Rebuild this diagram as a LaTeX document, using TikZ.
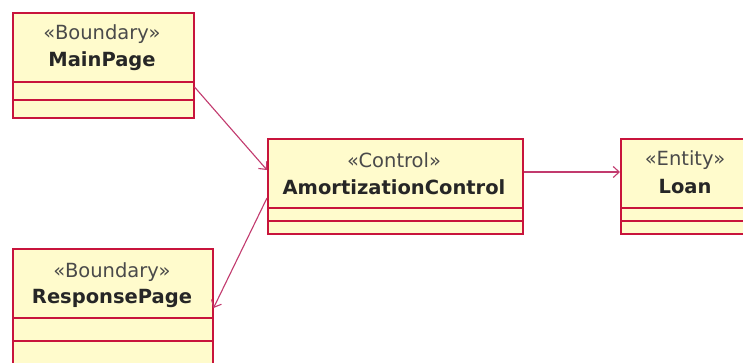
\documentclass[tikz,border=0pt]{standalone}
\usepackage{fontspec}
\setmainfont{DejaVu Sans}
\usetikzlibrary{arrows.meta}
\definecolor{boxline}{HTML}{C8143C}
\definecolor{boxfill}{HTML}{FFFBCC}
\definecolor{linkline}{HTML}{C23A6E}
\definecolor{stereogray}{HTML}{4A4A4A}
\tikzset{
  classbox/.style={draw=boxline, fill=boxfill, line width=1.5pt, rectangle, anchor=north west, inner sep=0pt},
  divider/.style={draw=boxline, line width=1.3pt},
  stereo/.style={font=\fontsize{19.5}{21}\selectfont, text=stereogray, inner sep=0pt},
  cname/.style={font=\fontsize{19.5}{21}\selectfont\bfseries, text=black!85, inner sep=0pt},
  link/.style={draw=linkline, line width=1.1pt, -{Straight Barb[length=6pt,width=11pt,line width=1.1pt]}}
}
\begin{document}
\begin{tikzpicture}[x=1pt,y=-1pt]
  \useasboundingbox (0,0) rectangle (743,362);
  \fill[white] (0,0) rectangle (743,362);
  \begin{scope}
    \clip (0,0) rectangle (743,362);
    % class boxes
    \node[classbox, minimum width=181pt, minimum height=105pt] (main) at (12,12) {};
    \node[classbox, minimum width=255pt, minimum height=95pt] (ctrl) at (267,138) {};
    \node[classbox, minimum width=130pt, minimum height=95pt] (loan) at (620,138) {};
    \node[classbox, minimum width=200pt, minimum height=120pt] (resp) at (12,248) {};
    % compartment dividers
    \foreach \b/\a/\c in {main/70/88, ctrl/70/83, loan/70/83, resp/70/93}{
      \draw[divider] ([yshift=-\a pt]\b.north west) -- ([yshift=-\a pt]\b.north east);
      \draw[divider] ([yshift=-\c pt]\b.north west) -- ([yshift=-\c pt]\b.north east);
    }
    % stereotypes and names
    \node[stereo] (mainS) at (102,34) {«Boundary»};
    \node[cname]  (mainN) at (102,61) {MainPage};
    \node[stereo] (ctrlS) at (394,160) {«Control»};
    \node[cname]  (ctrlN) at (394,187) {AmortizationControl};
    \node[stereo] (loanS) at (685,160) {«Entity»};
    \node[cname]  (loanN) at (685,187) {Loan};
    \node[stereo] (respS) at (112,272) {«Boundary»};
    \node[cname]  (respN) at (112,298) {ResponsePage};
    % dependencies
    \draw[link] ([yshift=-75pt]main.north east) -- ([yshift=-32pt]ctrl.north west);
    \draw[link] ([yshift=-60pt]ctrl.north west) -- ([yshift=-60pt]resp.north east);
    \draw[link] ([yshift=-34pt]ctrl.north east) -- ([yshift=-34pt]loan.north west);
  \end{scope}
\end{tikzpicture}
\end{document}
